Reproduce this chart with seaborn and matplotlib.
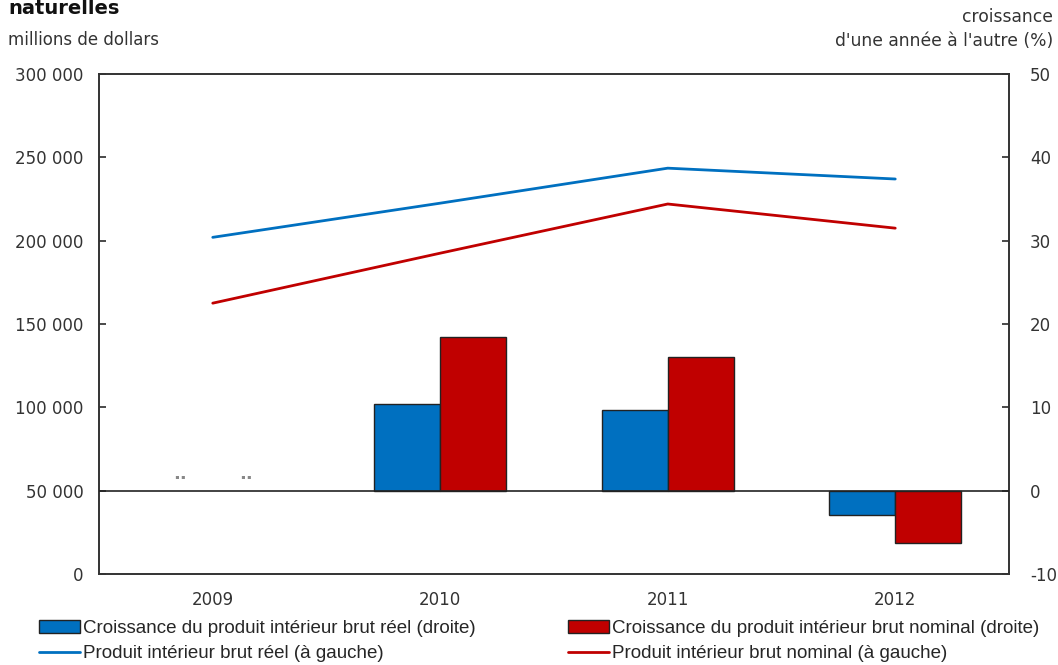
import pandas as pd
import matplotlib.pyplot as plt
import matplotlib.patches as mpatches
import matplotlib.lines as mlines
import seaborn as sns

# Data
years = ["2009", "2010", "2011", "2012"]
pib_reel = [202000, 222500, 243500, 237000]
pib_nominal = [162500, 192500, 222000, 207500]
croiss_reel = [None, 10.4, 9.7, -2.9]
croiss_nominal = [None, 18.4, 16.1, -6.3]

blue = "#0070c0"
red = "#c00000"
lbl_reel = "Croissance du produit intérieur brut réel (droite)"
lbl_nom = "Croissance du produit intérieur brut nominal (droite)"
lbl_line_reel = "Produit intérieur brut réel (à gauche)"
lbl_line_nom = "Produit intérieur brut nominal (à gauche)"

bars = pd.DataFrame({
    "annee": years * 2,
    "croissance": croiss_reel + croiss_nominal,
    "serie": [lbl_reel] * 4 + [lbl_nom] * 4,
})
lines = pd.DataFrame({
    "annee": years * 2,
    "pib": pib_reel + pib_nominal,
    "serie": [lbl_line_reel] * 4 + [lbl_line_nom] * 4,
})

sns.set_theme(style="white")
plt.rcParams["font.family"] = ["DejaVu Sans"]
plt.rcParams["axes.unicode_minus"] = False
text_col = "#333333"

fig = plt.figure(figsize=(10.58, 6.65), dpi=100)
ax = fig.add_axes([99 / 1058, 1 - 574 / 665, 910 / 1058, 500 / 665])
ax2 = ax.twinx()

# bars on the right axis
sns.barplot(data=bars, x="annee", y="croissance", hue="serie", order=years,
            palette=[blue, red], width=0.58, edgecolor="#222222", linewidth=1,
            ax=ax2, legend=False, saturation=1)
ax2.axhline(0, color="#222222", lw=1.2, zorder=5)
# not available marks for 2009
for dx in (-0.145, 0.145):
    ax2.text(0 + dx, 2.0, "..", ha="center", va="center", fontsize=13,
             fontweight="bold", color="#888888")

# lines on the left axis
sns.lineplot(data=lines, x="annee", y="pib", hue="serie", palette=[blue, red],
             linewidth=2, ax=ax, legend=False, sort=False)

ax.set_xlim(-0.5, 3.5)
ax.set_ylim(0, 300000)
ax.set_yticks(range(0, 300001, 50000))
ax.set_yticklabels([f"{v:,}".replace(",", " ") for v in range(0, 300001, 50000)])
ax2.set_ylim(-10, 50)
ax2.set_yticks(range(-10, 51, 10))

for a in (ax, ax2):
    a.set_xlabel("")
    a.set_ylabel("")
    for s in a.spines.values():
        s.set_color(text_col)
        s.set_linewidth(1.2)
    a.grid(False)
ax.tick_params(axis="y", direction="in", length=5, color=text_col, labelsize=12,
               labelcolor=text_col, pad=11)
ax2.tick_params(axis="y", direction="in", length=5, color=text_col, labelsize=12,
                labelcolor=text_col, pad=15)
ax.tick_params(axis="x", length=0, labelsize=12, labelcolor=text_col, pad=12)
ax2.tick_params(axis="x", length=0)

# titles
fig.text(8 / 1058, 1 - 9 / 665, "naturelles", fontsize=14, fontweight="bold",
         color="#111111", va="center", ha="left")
fig.text(8 / 1058, 1 - 40 / 665, "millions de dollars", fontsize=12,
         color=text_col, va="center", ha="left")
fig.text(1053 / 1058, 1 - 29 / 665, "croissance\nd'une année à l'autre (%)",
         fontsize=12.3, color=text_col, va="center", ha="right", multialignment="right",
         linespacing=1.4)

leg_font = {"family": ["Liberation Sans", "DejaVu Sans"], "size": 13.5}
col1 = [
    mpatches.Patch(facecolor=blue, edgecolor="#222222", label=lbl_reel),
    mlines.Line2D([], [], color=blue, lw=2, label=lbl_line_reel),
]
col2 = [
    mpatches.Patch(facecolor=red, edgecolor="#222222", label=lbl_nom),
    mlines.Line2D([], [], color=red, lw=2, label=lbl_line_nom),
]
for hs, x0 in ((col1, 22), (col2, 551)):
    fig.legend(handles=hs, loc="center left", bbox_to_anchor=(x0 / 1058, 1 - 641 / 665),
               frameon=False, handlelength=2.2, handleheight=0.7,
               handletextpad=0.15, labelspacing=0.45, prop=leg_font)

fig.savefig("out.png", dpi=100)
